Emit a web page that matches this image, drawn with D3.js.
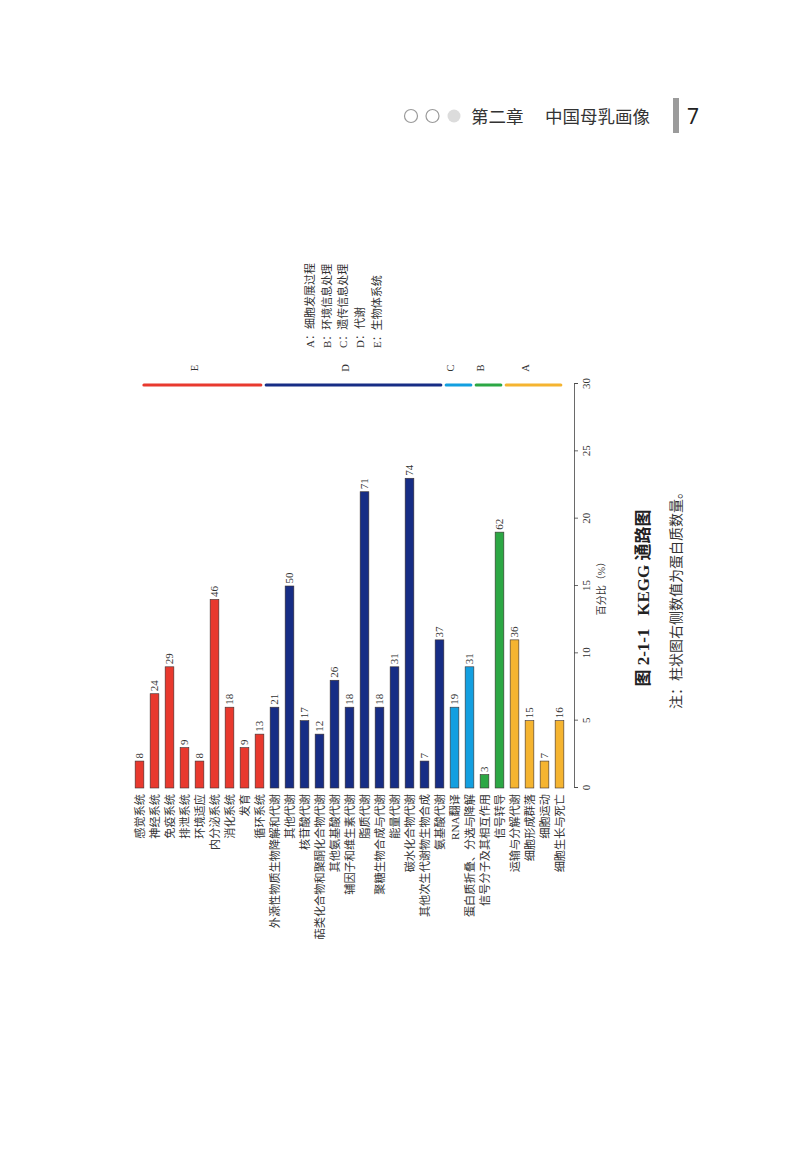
<!DOCTYPE html>
<html lang="zh">
  <head>
    <meta charset="UTF-8" />
    <title>KEGG 通路图</title>
    <style>
      body {
        margin: 0;
        background: #ffffff;
      }
      svg {
        display: block;
      }
      .serif {
        font-family: "Liberation Serif", "Noto Sans CJK SC", serif;
        fill: #333;
      }
      .cjk {
        font-family: "Liberation Serif", "Noto Sans CJK SC", sans-serif;
        fill: #333;
      }
      .axis path,
      .axis line {
        stroke: #444;
        stroke-width: 0.8px;
      }
    </style>
    <script src="https://d3js.org/d3.v7.min.js"></script>
  </head>
  <body>
    <svg id="page"></svg>
    <script>
      // 通路名称（从上到下，原图为横向条形图，书中旋转排版）
      const categories = [
        "感觉系统", "神经系统", "免疫系统", "排泄系统", "环境适应",
        "内分泌系统", "消化系统", "发育", "循环系统",
        "外源性物质生物降解和代谢", "其他代谢", "核苷酸代谢",
        "萜类化合物和聚酮化合物代谢", "其他氨基酸代谢", "辅因子和维生素代谢",
        "脂质代谢", "聚糖生物合成与代谢", "能量代谢", "碳水化合物代谢",
        "其他次生代谢物生物合成", "氨基酸代谢",
        "RNA翻译", "蛋白质折叠、分选与降解",
        "信号分子及其相互作用", "信号转导",
        "运输与分解代谢", "细胞形成群落", "细胞运动", "细胞生长与死亡",
      ];
      const percents = [
        2, 7, 9, 3, 2, 14, 6, 3, 4,
        6, 15, 5, 4, 8, 6, 22, 6, 9, 23, 2, 11,
        6, 9,
        1, 19,
        11, 5, 2, 5,
      ];
      const counts = [
        8, 24, 29, 9, 8, 46, 18, 9, 13,
        21, 50, 17, 12, 26, 18, 71, 18, 31, 74, 7, 37,
        19, 31,
        3, 62,
        36, 15, 7, 16,
      ];
      const groups = [
        "E", "E", "E", "E", "E", "E", "E", "E", "E",
        "D", "D", "D", "D", "D", "D", "D", "D", "D", "D", "D", "D",
        "C", "C",
        "B", "B",
        "A", "A", "A", "A",
      ];
      const groupKeys = ["A", "B", "C", "D", "E"];
      const groupNames = ["细胞发展过程", "环境信息处理", "遗传信息处理", "代谢", "生物体系统"];
      const groupColors = ["#f5b430", "#2ca744", "#139fe0", "#172d85", "#e8392e"];
      const tickValues = [0, 5, 10, 15, 20, 25, 30];

      const W = 800;
      const H = 1150;
      const svg = d3.select("#page").attr("width", W).attr("height", H);

      // ---- 页眉 ----
      const head = svg.append("g");
      head
        .selectAll("circle")
        .data([0, 1, 2])
        .join("circle")
        .attr("cx", (d) => 411 + d * 21.5)
        .attr("cy", 116)
        .attr("r", 6.5)
        .attr("fill", (d) => (d === 2 ? "#dcdcdc" : "none"))
        .attr("stroke", (d) => (d === 2 ? "none" : "#9a9a9a"))
        .attr("stroke-width", 1.2);
      head
        .append("text")
        .attr("x", 471)
        .attr("y", 123)
        .attr("font-family", "Noto Sans CJK SC")
        .attr("font-size", 17.5)
        .attr("fill", "#333")
        .text("第二章");
      head
        .append("text")
        .attr("x", 545)
        .attr("y", 123)
        .attr("font-family", "Noto Sans CJK SC")
        .attr("font-size", 17.5)
        .attr("fill", "#333")
        .text("中国母乳画像");
      head
        .append("rect")
        .attr("x", 673)
        .attr("y", 98)
        .attr("width", 6)
        .attr("height", 35)
        .attr("fill", "#9b9b9b");
      head
        .append("text")
        .attr("x", 687)
        .attr("y", 124)
        .attr("font-family", "Noto Sans")
        .attr("font-size", 21)
        .attr("fill", "#222")
        .text("7");

      // ---- 图表：在本地坐标里画横向条形图，再整体逆时针旋转 90° ----
      const chart = svg.append("g").attr("transform", "translate(0,788) rotate(-90)");

      const x = d3.scaleLinear().domain([0, 30]).range([0, 404]);
      const y = d3
        .scaleBand()
        .domain(categories)
        .range([132, 567])
        .paddingInner(0.42)
        .paddingOuter(0.21);
      const color = d3.scaleOrdinal().domain(groupKeys).range(groupColors);

      const rows = categories.map((c, i) => ({
        name: c,
        pct: percents[i],
        count: counts[i],
        group: groups[i],
      }));

      chart
        .append("g")
        .selectAll("rect")
        .data(rows)
        .join("rect")
        .attr("x", x(0))
        .attr("y", (d) => y(d.name))
        .attr("width", (d) => x(d.pct) - x(0))
        .attr("height", y.bandwidth())
        .attr("fill", (d) => color(d.group))
        .attr("stroke", "#3a3030")
        .attr("stroke-width", 0.6);

      // 柱右侧数值（蛋白质数量）
      chart
        .append("g")
        .selectAll("text")
        .data(rows)
        .join("text")
        .attr("class", "serif")
        .attr("x", (d) => x(d.pct) + 2.5)
        .attr("y", (d) => y(d.name) + y.bandwidth() / 2)
        .attr("dy", "0.35em")
        .attr("font-size", 11)
        .text((d) => d.count);

      // 通路名称
      chart
        .append("g")
        .selectAll("text")
        .data(rows)
        .join("text")
        .attr("class", "cjk")
        .attr("x", -6)
        .attr("y", (d) => y(d.name) + y.bandwidth() / 2)
        .attr("dy", "0.36em")
        .attr("text-anchor", "end")
        .attr("font-size", 11.2)
        .text((d) => d.name);

      // 数值轴
      const axis = chart
        .append("g")
        .attr("class", "axis")
        .attr("transform", "translate(0,574)")
        .call(d3.axisBottom(x).tickValues(tickValues).tickSize(4).tickPadding(4));
      axis
        .selectAll("text")
        .attr("class", "serif")
        .attr("font-size", 11)
        .attr("fill", "#333");
      chart
        .append("text")
        .attr("class", "cjk")
        .attr("x", x(15))
        .attr("y", 601)
        .attr("dy", "0.36em")
        .attr("text-anchor", "middle")
        .attr("font-size", 10)
        .text("百分比（%）");

      // 分组线与字母
      const spans = groupKeys.map((g) => {
        const idx = groups.map((v, i) => (v === g ? i : -1)).filter((i) => i >= 0);
        const first = categories[idx[0]];
        const last = categories[idx[idx.length - 1]];
        const start = Math.max(y(first) - 4, y(categories[0]) + y.bandwidth());
        const end = y(last) + y.bandwidth() - 3;
        return { g, start, end };
      });
      chart
        .append("g")
        .selectAll("line")
        .data(spans)
        .join("line")
        .attr("x1", 403)
        .attr("x2", 403)
        .attr("y1", (d) => d.start)
        .attr("y2", (d) => d.end)
        .attr("stroke", (d) => color(d.g))
        .attr("stroke-width", 3)
        .attr("stroke-linecap", "round");
      chart
        .append("g")
        .selectAll("text")
        .data(spans)
        .join("text")
        .attr("class", "serif")
        .attr("x", 420)
        .attr("y", (d) => (d.start + d.end) / 2 - 8)
        .attr("dy", "0.35em")
        .attr("text-anchor", "middle")
        .attr("font-size", 10.5)
        .text((d) => d.g);

      // 图例
      chart
        .append("g")
        .selectAll("text")
        .data(groupKeys)
        .join("text")
        .attr("class", "cjk")
        .attr("x", 440)
        .attr("y", (d, i) => 310 + i * 16.7)
        .attr("dy", "0.36em")
        .attr("font-size", 11)
        .text((d, i) => `${d}：${groupNames[i]}`);

      // 图题与注释
      chart
        .append("text")
        .attr("x", 788 - 598)
        .attr("y", 643)
        .attr("dy", "0.36em")
        .attr("text-anchor", "middle")
        .attr("font-family", "Liberation Serif, Noto Sans CJK SC")
        .attr("font-weight", "bold")
        .attr("font-size", 17)
        .attr("fill", "#222")
        .attr("xml:space", "preserve")
        .text("图 2-1-1   KEGG 通路图");
      chart
        .append("text")
        .attr("x", 788 - 597)
        .attr("y", 676)
        .attr("dy", "0.36em")
        .attr("text-anchor", "middle")
        .attr("font-family", "Noto Sans CJK SC")
        .attr("font-size", 14)
        .attr("fill", "#333")
        .text("注：柱状图右侧数值为蛋白质数量。");
    </script>
  </body>
</html>
